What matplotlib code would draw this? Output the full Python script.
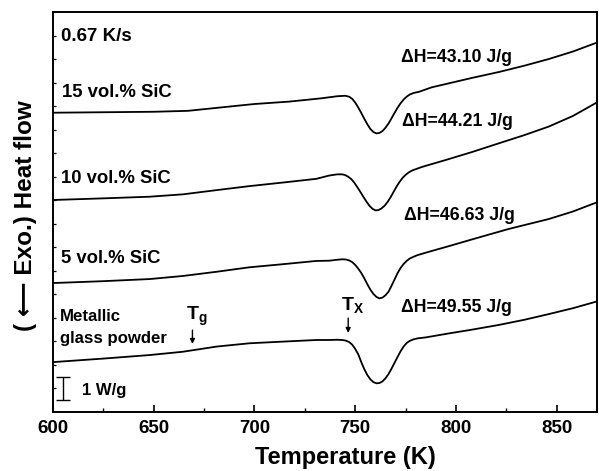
"""DSC traces of metallic glass powder and SiC composites (0.67 K/s)."""

import matplotlib
matplotlib.use("Agg")
import matplotlib.pyplot as plt

# ---- data (temperature in K, heat flow in W/g, offset) ----
t_15 = [600, 625, 650, 667, 684, 700, 717, 733, 741, 745, 747, 748.5, 750,
        751.5, 753, 754.5, 756, 757.5, 759, 760.5, 762, 763.5, 765, 766.5,
        768, 769.5, 771, 772.5, 774, 775.5, 777, 779, 781.7, 788, 796.5, 808,
        821.3, 834, 846, 858, 869.3]
hf_15 = [12.72, 12.74, 12.76, 12.80, 12.95, 13.09, 13.19, 13.33, 13.42, 13.44,
         13.40, 13.31, 13.15, 12.94, 12.71, 12.46, 12.23, 12.03, 11.90, 11.84,
         11.86, 11.94, 12.08, 12.26, 12.48, 12.71, 12.93, 13.12, 13.28, 13.40,
         13.49, 13.56, 13.61, 13.80, 13.97, 14.20, 14.45, 14.72, 15.00, 15.32,
         15.68]

t_10 = [600, 625, 648, 664.4, 681.2, 697.5, 713.9, 730.7, 737.1, 741, 743.5,
        745, 746.5, 748, 749.5, 751, 752.5, 754, 755.5, 757, 758.5, 760,
        761.5, 763, 764.5, 766, 767.5, 769, 770.5, 772, 773.5, 775, 776.5,
        778.4, 781, 783.3, 794.9, 808, 821.3, 834, 846, 858, 869.6]
hf_10 = [9.01, 9.08, 9.15, 9.25, 9.43, 9.60, 9.75, 9.91, 10.05, 10.10, 10.10,
         10.07, 10.00, 9.90, 9.75, 9.56, 9.36, 9.15, 8.95, 8.77, 8.64, 8.57,
         8.58, 8.65, 8.76, 8.92, 9.12, 9.35, 9.58, 9.78, 9.95, 10.08, 10.18,
         10.27, 10.35, 10.42, 10.71, 11.05, 11.42, 11.77, 12.13, 12.58, 13.14]

t_5 = [600, 625, 648, 664.4, 681.2, 697.5, 713.9, 730.7, 737.1, 741, 743.6,
       745.5, 747, 748.5, 750, 751.5, 753, 754.5, 756, 757.5, 759, 760.5, 762,
       763.5, 765, 766.5, 768, 769.5, 771, 772.5, 774, 775.5, 777, 779, 781,
       786.6, 796.5, 809.8, 826.2, 846, 858, 869.6]
hf_5 = [5.48, 5.56, 5.65, 5.78, 5.96, 6.15, 6.28, 6.42, 6.43, 6.47, 6.49,
        6.48, 6.44, 6.37, 6.25, 6.09, 5.91, 5.68, 5.43, 5.20, 5.02, 4.89, 4.83,
        4.86, 4.96, 5.11, 5.36, 5.63, 5.90, 6.12, 6.29, 6.42, 6.52, 6.60, 6.67,
        6.81, 7.05, 7.38, 7.78, 8.20, 8.52, 8.90]

t_mg = [600, 625, 648, 664.4, 681.2, 697.5, 713.9, 730.7, 737.1, 741, 743.6,
        745.5, 747, 748.5, 750, 751.5, 753, 754.5, 756, 757.5, 759, 760.5, 762,
        763.5, 765, 766.5, 768, 769.5, 771, 772.5, 774, 775.5, 777, 779, 781,
        785, 796.5, 808, 821.3, 834, 846, 858, 869.6]
hf_mg = [2.12, 2.27, 2.42, 2.56, 2.78, 2.92, 2.99, 3.06, 3.06, 3.07, 3.06,
         3.03, 2.97, 2.86, 2.68, 2.45, 2.12, 1.82, 1.57, 1.39, 1.27, 1.22,
         1.23, 1.30, 1.43, 1.61, 1.84, 2.09, 2.34, 2.58, 2.78, 2.93, 3.02,
         3.09, 3.13, 3.17, 3.34, 3.50, 3.70, 3.92, 4.16, 4.41, 4.69]

sample_labels = ["15 vol.% SiC", "10 vol.% SiC", "5 vol.% SiC",
                 "Metallic\nglass powder"]
enthalpies = ["ΔH=43.10 J/g", "ΔH=44.21 J/g", "ΔH=46.63 J/g", "ΔH=49.55 J/g"]

plt.rcParams["font.family"] = ["Liberation Sans", "DejaVu Sans"]
plt.rcParams["font.weight"] = "bold"
plt.rcParams["mathtext.fontset"] = "custom"
plt.rcParams["mathtext.rm"] = "Liberation Sans:bold"
plt.rcParams["mathtext.bf"] = "Liberation Sans:bold"
plt.rcParams["mathtext.it"] = "Liberation Sans:bold"

fig = plt.figure(figsize=(5.99, 4.71), dpi=100)
ax = fig.add_axes([0.0885, 0.1253, 0.9082, 0.8492])

for t, hf in [(t_15, hf_15), (t_10, hf_10), (t_5, hf_5), (t_mg, hf_mg)]:
    ax.plot(t, hf, color="k", lw=1.3)

# sample names on the left
ax.text(604, 15.98, "0.67 K/s", fontsize=13.5, va="center")
ax.text(604.5, 13.56, sample_labels[0], fontsize=13.3, va="center")
ax.text(604, 9.94, sample_labels[1], fontsize=13.3, va="center")
ax.text(604, 6.53, sample_labels[2], fontsize=13.3, va="center")
ax.text(603.5, 3.59, sample_labels[3], fontsize=12.1, va="center",
        linespacing=1.55)

# enthalpies on the right
ax.text(772.8, 15.07, enthalpies[0], fontsize=12.8, va="center")
ax.text(773.3, 12.34, enthalpies[1], fontsize=12.8, va="center")
ax.text(774.3, 8.34, enthalpies[2], fontsize=12.8, va="center")
ax.text(772.8, 4.42, enthalpies[3], fontsize=12.8, va="center")

# Tg and Tx markers
arrow = dict(arrowstyle="-|>", color="k", lw=1.0, mutation_scale=7,
             shrinkA=0, shrinkB=0)
ax.annotate("", xy=(669.2, 2.89), xytext=(669.2, 3.48), arrowprops=arrow)
ax.annotate("", xy=(746.5, 3.36), xytext=(746.5, 3.99), arrowprops=arrow)
ax.text(671.3, 3.55, r"$\mathbf{T}_{\mathbf{g}}$", fontsize=14,
        ha="center", va="bottom")
ax.text(748.5, 4.12, r"$\mathbf{T}_{\mathbf{X}}$", fontsize=14,
        ha="center", va="bottom")

# 1 W/g scale bar
ax.errorbar([605.1], [1.0], yerr=0.5, color="k", capsize=5, lw=1.0,
            capthick=1.0)
ax.text(614.5, 0.93, "1 W/g", fontsize=12, va="center")

ax.set_xlim(600, 870)
ax.set_ylim(0, 17)
ax.set_xticks([600, 650, 700, 750, 800, 850])
ax.set_xticks([625, 675, 725, 775, 825], minor=True)
ax.set_yticks(range(1, 17))
ax.set_yticklabels([])
ax.tick_params(axis="x", which="major", direction="in", length=5, width=1.2,
               labelsize=13.5, pad=6)
ax.tick_params(axis="x", which="minor", direction="in", length=3, width=1.0)
ax.tick_params(axis="y", which="major", direction="in", length=2.5, width=0.9)
for lab in ax.get_xticklabels():
    lab.set_fontweight("bold")
for sp in ax.spines.values():
    sp.set_linewidth(1.4)

ax.set_xlabel("Temperature (K)", fontsize=17, fontweight="bold")
ax.xaxis.set_label_coords(0.537, -0.085)
ax.set_ylabel("( ⟵ Exo.) Heat flow", fontsize=17.5, fontweight="bold")
ax.yaxis.set_label_coords(-0.03, 0.49)

fig.savefig("out.png", dpi=100)
